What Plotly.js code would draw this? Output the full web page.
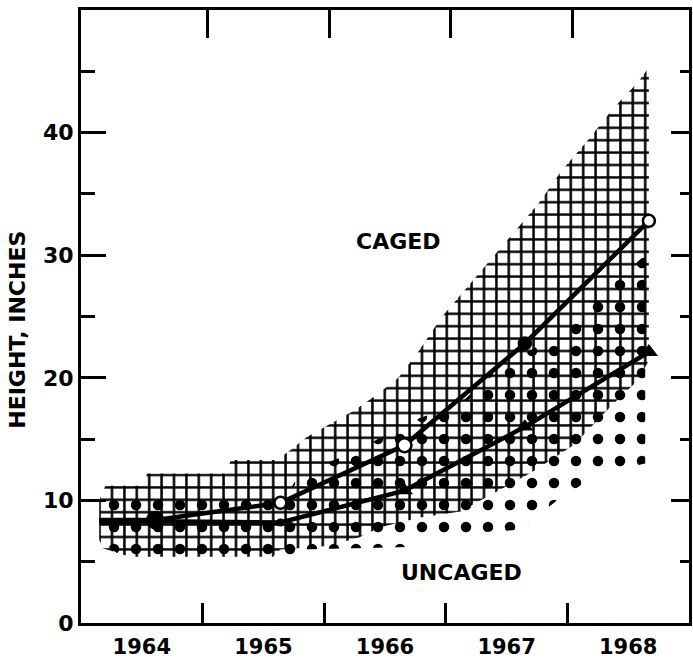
<!DOCTYPE html>
<html>
<head>
<meta charset="utf-8">
<script src="https://cdn.plot.ly/plotly-3.0.1.min.js"></script>
<style>
  html, body { margin: 0; padding: 0; background: #fff; }
  #chart { width: 693px; height: 658px; }
</style>
</head>
<body>
<div id="chart"></div>
<script>
// Yearly height measurements (inches); the first point is the planting height.
const pointYears = [1964.15, 1964.61, 1965.64, 1966.66, 1967.65, 1968.67];
const cagedHeight = [8.4, 8.4, 9.8, 14.5, 22.8, 32.8];
const uncagedHeight = [8.2, 8.3, 8.2, 10.8, 16.0, 22.1];

// Range of individual caged plants (cross-hatched band).
const cagedTopX = [1964.15, 1964.20, 1964.53, 1964.54, 1965.20, 1965.23, 1965.61, 1965.72, 1965.86, 1966.02,
                   1966.24, 1966.43, 1966.61, 1966.75, 1966.83, 1966.97, 1967.16, 1967.35, 1967.57, 1967.76,
                   1967.96, 1968.17, 1968.38, 1968.58, 1968.67];
const cagedTopY = [10.0, 11.2, 11.2, 12.2, 12.2, 13.3, 13.3, 14.1, 15.2, 16.1,
                   17.3, 18.6, 20.0, 21.8, 23.0, 25.0, 27.2, 29.4, 32.0, 34.2,
                   37.0, 39.4, 42.0, 44.1, 45.3];
const cagedBottomX = [1964.15, 1964.18, 1964.40, 1965.58, 1965.64, 1966.05, 1966.29, 1966.46, 1966.79, 1967.12,
                      1967.36, 1967.69, 1968.05, 1968.37, 1968.57, 1968.67];
const cagedBottomY = [6.8, 6.1, 5.4, 5.4, 6.0, 6.3, 7.0, 7.8, 8.6, 9.1,
                      10.4, 12.2, 14.5, 17.8, 19.7, 21.4];

// Range of individual uncaged plants (dotted band).
const uncagedTopX = [1964.18, 1964.40, 1965.72, 1965.80, 1966.21, 1966.73, 1967.13, 1967.40, 1967.91, 1968.20, 1968.46, 1968.64];
const uncagedTopY = [10.5, 10.9, 10.9, 12.2, 13.8, 16.5, 18.0, 20.5, 23.5, 26.0, 28.5, 30.0];
const uncagedBottomX = [1964.18, 1964.40, 1965.72, 1965.80, 1966.70, 1966.95, 1967.61, 1967.94, 1968.27, 1968.64];
const uncagedBottomY = [6.5, 5.0, 5.0, 6.0, 6.2, 7.2, 7.6, 10.2, 12.2, 13.0];

const yearLabels = ['1964', '1965', '1966', '1967', '1968'];
const yearLabelPos = [1964.5, 1965.5, 1966.5, 1967.5, 1968.5];
const yearBounds = [1965, 1966, 1967, 1968];

const ink = '#000';
const paper = '#fff';
const letterFont = { family: 'DejaVu Sans, Arial, sans-serif', weight: 'bold', color: ink };

function band(topX, topY, botX, botY, pattern) {
  return {
    type: 'scatter', mode: 'lines',
    x: topX.concat(botX.slice().reverse()),
    y: topY.concat(botY.slice().reverse()),
    fill: 'toself', fillcolor: 'rgba(0,0,0,0)',
    fillpattern: pattern,
    line: { width: 0, color: 'rgba(0,0,0,0)' },
    hoverinfo: 'skip', showlegend: false
  };
}

const traces = [
  band(cagedTopX, cagedTopY, cagedBottomX, cagedBottomY,
       { shape: '+', size: 12.4, solidity: 0.36, fgcolor: ink, bgcolor: 'rgba(0,0,0,0)', fillmode: 'replace' }),
  band(uncagedTopX, uncagedTopY, uncagedBottomX, uncagedBottomY,
       { shape: '.', size: 22, solidity: 0.18, fgcolor: ink, bgcolor: 'rgba(0,0,0,0)', fillmode: 'replace' }),
  {
    type: 'scatter', mode: 'lines+markers', name: 'Uncaged',
    x: pointYears, y: uncagedHeight,
    line: { color: ink, width: 4.5 },
    marker: { color: ink, opacity: 1,
              symbol: ['circle', 'circle', 'circle', 'triangle-up', 'triangle-up', 'triangle-up'],
              size: [0, 0, 8, 15, 15, 16], line: { width: 0 } },
    showlegend: false
  },
  {
    type: 'scatter', mode: 'lines+markers', name: 'Caged',
    x: pointYears, y: cagedHeight,
    line: { color: ink, width: 4.5 },
    marker: { opacity: 1, symbol: 'circle',
              color: [ink, ink, paper, paper, ink, paper],
              size: [0, 16, 12, 14, 12, 12], line: { width: 2.5, color: ink } },
    showlegend: false
  },
  // frame axes on the top and right edges
  { type: 'scatter', x: [], y: [], xaxis: 'x2', yaxis: 'y', hoverinfo: 'skip', showlegend: false },
  { type: 'scatter', x: [], y: [], xaxis: 'x', yaxis: 'y2', hoverinfo: 'skip', showlegend: false }
];

const baseAxis = { showgrid: false, zeroline: false, showline: true, linecolor: ink, linewidth: 3,
                   tickcolor: ink, tickwidth: 3 };

const layout = {
  width: 693, height: 658,
  margin: { l: 81, r: 4, t: 10, b: 35 },
  paper_bgcolor: paper, plot_bgcolor: paper,
  showlegend: false,
  xaxis: Object.assign({}, baseAxis, {
    range: [1964, 1969],
    tickmode: 'array', tickvals: yearLabelPos, ticktext: yearLabels,
    ticks: '', ticklabelstandoff: 3,
    tickfont: Object.assign({ size: 21 }, letterFont),
    minor: { tickmode: 'array', tickvals: yearBounds, ticks: 'inside', ticklen: 20, tickwidth: 3, tickcolor: ink, showgrid: false }
  }),
  xaxis2: Object.assign({}, baseAxis, {
    overlaying: 'x', side: 'top', anchor: 'y',
    range: [1963.96, 1968.96],
    tickmode: 'array', tickvals: yearBounds, ticks: 'inside', ticklen: 28,
    showticklabels: false
  }),
  yaxis: Object.assign({}, baseAxis, {
    range: [0, 50],
    tickmode: 'array', tickvals: [0, 10, 20, 30, 40],
    ticks: 'inside', ticklen: 25, ticklabelstandoff: 0,
    tickfont: Object.assign({ size: 22 }, letterFont),
    minor: { tickmode: 'array', tickvals: [5, 15, 25, 35, 45], ticks: 'inside', ticklen: 14, tickwidth: 3, tickcolor: ink, showgrid: false }
  }),
  yaxis2: Object.assign({}, baseAxis, {
    overlaying: 'y', side: 'right', anchor: 'x',
    range: [0, 50],
    tickmode: 'array', tickvals: [10, 20, 30, 40],
    ticks: 'inside', ticklen: 18, showticklabels: false,
    minor: { tickmode: 'array', tickvals: [5, 15, 25, 35, 45], ticks: 'inside', ticklen: 9, tickwidth: 3, tickcolor: ink, showgrid: false }
  }),
  annotations: [
    { text: 'CAGED', x: 1966.61, y: 31.1, xref: 'x', yref: 'y', showarrow: false,
      font: Object.assign({ size: 22 }, letterFont) },
    { text: 'UNCAGED', x: 1967.13, y: 4.1, xref: 'x', yref: 'y', showarrow: false,
      font: Object.assign({ size: 22 }, letterFont) },
    { text: 'HEIGHT, INCHES', textangle: -90, xref: 'paper', yref: 'paper',
      x: -0.104, y: 0.478, xanchor: 'center', yanchor: 'middle', showarrow: false,
      font: Object.assign({ size: 22 }, letterFont) }
  ]
};

Plotly.newPlot('chart', traces, layout, { displayModeBar: false, staticPlot: true });
</script>
</body>
</html>
